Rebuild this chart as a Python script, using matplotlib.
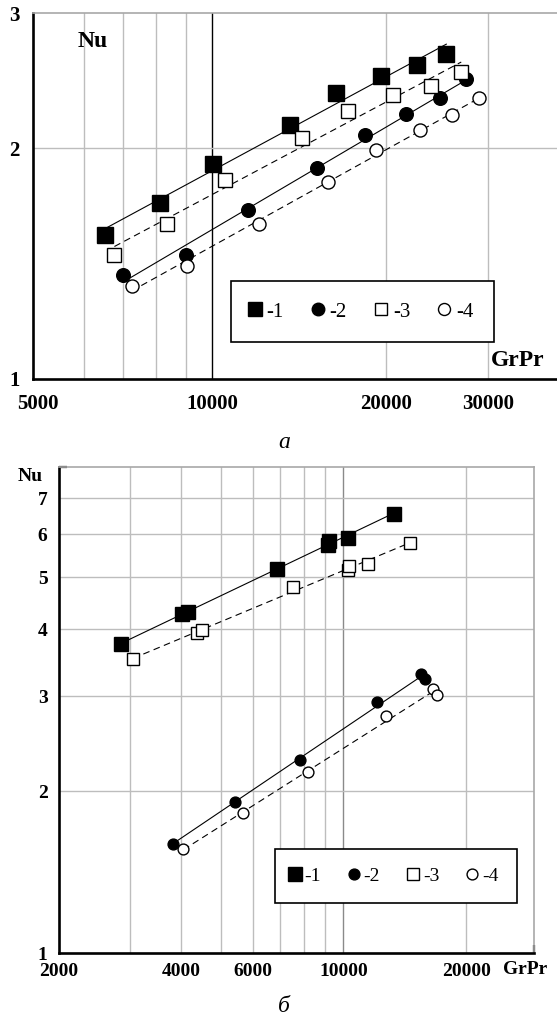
import numpy as np
import matplotlib
matplotlib.use('Agg')
import matplotlib.pyplot as plt
from matplotlib.ticker import FixedLocator, NullFormatter, FuncFormatter

# ---------------- data: panel а ----------------
a_x1 = [6520, 8120, 10040, 13620, 16380, 19550, 22590, 25410]
a_y1 = [1.539, 1.697, 1.910, 2.148, 2.363, 2.484, 2.568, 2.657]
a_x2 = [7000, 8990, 11520, 15150, 18400, 21650, 24810, 27480]
a_y2 = [1.368, 1.452, 1.660, 1.885, 2.084, 2.218, 2.323, 2.460]
a_x3 = [6770, 8350, 10520, 14270, 17160, 20550, 23940, 26970]
a_y3 = [1.450, 1.594, 1.820, 2.064, 2.236, 2.344, 2.415, 2.517]
a_x4 = [7250, 9055, 12040, 15850, 19200, 22850, 26040, 29000]
a_y4 = [1.324, 1.406, 1.594, 1.806, 1.992, 2.110, 2.207, 2.328]

# ---------------- data: panel б ----------------
b_x1 = [2849, 4007, 4156, 6873, 9154, 9228, 10265, 13276]
b_y1 = [3.753, 4.278, 4.313, 5.178, 5.740, 5.843, 5.920, 6.562]
b_x2 = [3818, 5429, 7825, 12053, 15497, 15874]
b_y2 = [1.598, 1.912, 2.288, 2.924, 3.305, 3.236]
b_x3 = [3045, 4369, 4504, 7518, 10265, 10327, 11464, 14531]
b_y3 = [3.528, 3.942, 3.981, 4.787, 5.161, 5.254, 5.288, 5.786]
b_x4 = [4047, 5674, 8180, 12752, 16559, 16962]
b_y4 = [1.559, 1.821, 2.172, 2.757, 3.096, 3.021]

series_labels = ['-1', '-2', '-3', '-4']

a_xticks = [5000, 10000, 20000, 30000]
a_yticks = [1, 2, 3]
a_xgrid = [6000, 7000, 8000, 9000, 20000, 30000]
a_ygrid = [2]

b_xticks = [2000, 4000, 6000, 10000, 20000]
b_yticks = [1, 2, 3, 4, 5, 6, 7]
b_xgrid = [3000, 4000, 5000, 6000, 7000, 8000, 9000, 20000]
b_ygrid = [2, 3, 4, 5, 6, 7]

W, H = 557, 1018
fig = plt.figure(figsize=(W / 100, H / 100), dpi=100)
SERIF = ['Liberation Serif', 'DejaVu Serif']
GRID = '#bdbdbd'


def fit_line(ax, x, y, ls):
    lx, ly = np.log10(x), np.log10(y)
    k, b = np.polyfit(lx, ly, 1)
    xs = np.linspace(lx.min(), lx.max(), 50)
    ax.plot(10 ** xs, 10 ** (k * xs + b), color='black', lw=0.8, ls=ls, zorder=3)


def panel(rect, xlim, ylim, xs, ys, xticks, yticks, xgrid, ygrid, tenk_color,
          minor_x, minor_y, msz, tick_fs):
    ax = fig.add_axes(rect)
    ax.set_xscale('log')
    ax.set_yscale('log')
    ax.set_xlim(*xlim)
    ax.set_ylim(*ylim)
    for g in xgrid:
        ax.axvline(g, color=GRID, lw=1.0, zorder=0)
    ax.axvline(10000, color=tenk_color, lw=1.0, zorder=0)
    for g in ygrid:
        ax.axhline(g, color=GRID, lw=1.0, zorder=0)
    styles = [('s', 'black', '-', msz[0]), ('o', 'black', '-', msz[1]),
              ('s', 'white', (0, (6, 4)), msz[2]), ('o', 'white', (0, (6, 4)), msz[3])]
    handles = []
    for (x, y), (m, fc, ls, ms), lab in zip(zip(xs, ys), styles, series_labels):
        fit_line(ax, np.array(x, float), np.array(y, float), ls)
        h, = ax.plot(x, y, ls='none', marker=m, ms=ms, mfc=fc, mec='black',
                     mew=1.0, zorder=4, label=lab)
        handles.append(h)
    for s in ['left', 'bottom']:
        ax.spines[s].set_linewidth(1.9)
        ax.spines[s].set_color('black')
    for s in ['top', 'right']:
        ax.spines[s].set_linewidth(1.2)
        ax.spines[s].set_color('#a8a8a8')
    ax.xaxis.set_major_locator(FixedLocator(xticks))
    ax.xaxis.set_major_formatter(FuncFormatter(lambda v, p: '%d' % round(v)))
    ax.yaxis.set_major_locator(FixedLocator(yticks))
    ax.yaxis.set_major_formatter(FuncFormatter(lambda v, p: '%d' % round(v)))
    ax.xaxis.set_minor_locator(FixedLocator(minor_x))
    ax.yaxis.set_minor_locator(FixedLocator(minor_y))
    ax.xaxis.set_minor_formatter(NullFormatter())
    ax.yaxis.set_minor_formatter(NullFormatter())
    ax.tick_params(which='major', length=0)
    ax.tick_params(which='minor', direction='in', length=6, width=1.6, color='black')
    for lab in ax.get_xticklabels() + ax.get_yticklabels():
        lab.set_fontfamily(SERIF)
        lab.set_fontweight('bold')
        lab.set_fontsize(tick_fs)
    return ax, handles


# ---------------- panel а ----------------
axA, hA = panel([33.3 / W, 1 - 379 / H, (557 - 33.3) / W, (379 - 13.3) / H],
                (4900, 39500), (1, 3),
                [a_x1, a_x2, a_x3, a_x4], [a_y1, a_y2, a_y3, a_y4],
                a_xticks, a_yticks, a_xgrid, a_ygrid, 'black',
                [10000], [3], (11.5, 9.8, 10.0, 9.4), 15)
axA.spines['right'].set_visible(False)
axA.tick_params(axis='x', which='major', pad=11)
axA.tick_params(axis='y', which='major', pad=10)
axA.text(59.5 / 523.7, 1 - (41.5 - 13.3) / 365.7, 'Nu', transform=axA.transAxes,
         ha='center', va='center', fontsize=17, fontweight='bold', family=SERIF)
axA.text((518 - 33.3) / 523.7, 1 - (360.5 - 13.3) / 365.7, 'GrPr', transform=axA.transAxes,
         ha='center', va='center', fontsize=17, fontweight='bold', family=SERIF)
legA = axA.legend(handles=hA, ncol=4, loc='center',
                  bbox_to_anchor=(362.75 / W, 1 - 311.75 / H), bbox_transform=fig.transFigure,
                  prop={'family': SERIF, 'size': 15}, frameon=True, fancybox=False,
                  edgecolor='black', framealpha=1, handlelength=0.25, handletextpad=0.45,
                  columnspacing=1.5, borderpad=1.0, handleheight=0.7, markerscale=0.92)
legA.get_frame().set_linewidth(1.2)

# ---------------- panel б ----------------
axB, hB = panel([58.7 / W, 1 - 953 / H, (534.3 - 58.7) / W, (953 - 467.3) / H],
                (2000, 29400), (1, 8),
                [b_x1, b_x2, b_x3, b_x4], [b_y1, b_y2, b_y3, b_y4],
                b_xticks, b_yticks, b_xgrid, b_ygrid, '#8a8a8a',
                [10000, 29400], [8], (9.4, 7.8, 8.3, 7.8), 14)
axB.tick_params(axis='x', which='major', pad=7)
axB.tick_params(axis='y', which='major', pad=8)
fig.text(30 / W, 1 - 476 / H, 'Nu', ha='center', va='center', fontsize=14,
         fontweight='bold', family=SERIF)
fig.text(525 / W, 1 - 969 / H, 'GrPr', ha='center', va='center', fontsize=14,
         fontweight='bold', family=SERIF)
legB = axB.legend(handles=hB, ncol=4, loc='center',
                  bbox_to_anchor=(396 / W, 1 - 876 / H), bbox_transform=fig.transFigure,
                  prop={'family': SERIF, 'size': 14}, frameon=True, fancybox=False,
                  edgecolor='black', framealpha=1, handlelength=0.1, handletextpad=0.45,
                  columnspacing=1.65, borderpad=0.95, handleheight=0.7, markerscale=1.0)
legB.get_frame().set_linewidth(1.2)

# ---------------- captions ----------------
fig.text(284 / W, 1 - 443 / H, 'а', ha='center', va='center', fontsize=17,
         style='italic', family=SERIF)
fig.text(284 / W, 1 - 1006 / H, 'б', ha='center', va='center', fontsize=17,
         style='italic', family=SERIF)

fig.savefig('out.png', dpi=100)
